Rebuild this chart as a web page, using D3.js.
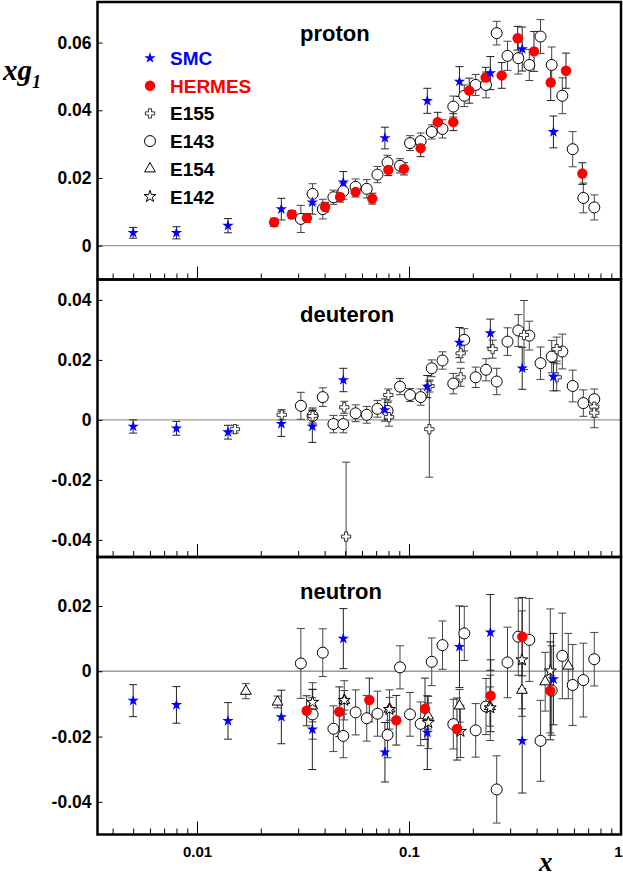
<!DOCTYPE html>
<html><head><meta charset="utf-8">
<script src="https://cdn.jsdelivr.net/npm/d3@7/dist/d3.min.js"></script>
<style>body{margin:0;background:#fff}svg{display:block}</style>
</head><body>
<script>
// ---------------- DATA ----------------
const xTickLabels = ["0.01", "0.1", "1"];
const xMajor = [0.01, 0.1, 1];
const experiments = ["SMC", "HERMES", "E155", "E143", "E154", "E142"];

// SMC x bins (shared by p, d, n)
const smcX = [0.005, 0.008, 0.014, 0.025, 0.035, 0.049, 0.077, 0.122, 0.173, 0.242, 0.342, 0.480];
// E143 x bins (shared by p, d, n)
const e143X = [0.0309, 0.0351, 0.0392, 0.0440, 0.0490, 0.0560, 0.0632, 0.0710, 0.0792, 0.0907, 0.1011, 0.1135, 0.1280, 0.1439,
  0.1618, 0.1823, 0.2063, 0.2308, 0.2592, 0.2915, 0.3278, 0.3694, 0.4173, 0.4711, 0.5287, 0.5918, 0.6643, 0.7482];

// proton
const pSMC_y = [0.0038, 0.0038, 0.0059, 0.0108, 0.0128, 0.0187, 0.0318, 0.0428, 0.0485, 0.0510, 0.0581, 0.0336];
const pSMC_e = [0.0016, 0.0018, 0.0021, 0.0032, 0.0035, 0.0032, 0.0032, 0.0037, 0.0044, 0.0049, 0.0065, 0.0047];
const pHERMES_x = [0.0231, 0.0280, 0.0330, 0.0402, 0.0473, 0.0560, 0.0671, 0.0799, 0.0947, 0.1135, 0.1366, 0.1618, 0.1924,
  0.2300, 0.2737, 0.3255, 0.3887, 0.4660, 0.5503, 0.6572];
const pHERMES_y = [0.0069, 0.0092, 0.0082, 0.0114, 0.0144, 0.0159, 0.0139, 0.0224, 0.0227, 0.0288, 0.0365, 0.0365, 0.0458,
  0.0497, 0.0503, 0.0613, 0.0574, 0.0482, 0.0517, 0.0213];
const pHERMES_e = [0.0012, 0.0012, 0.0013, 0.0014, 0.0015, 0.0015, 0.0016, 0.0017, 0.0018, 0.0025, 0.0029, 0.0025, 0.0037,
  0.0030, 0.0038, 0.0035, 0.0059, 0.0053, 0.0052, 0.0032];
const pE143_y = [0.0079, 0.0153, 0.0108, 0.0143, 0.0161, 0.0174, 0.0168, 0.0210, 0.0246, 0.0236, 0.0303, 0.0309, 0.0336, 0.0345,
  0.0411, 0.0443, 0.0475, 0.0475, 0.0628, 0.0561, 0.0554, 0.0534, 0.0618, 0.0534, 0.0443, 0.0285, 0.0141, 0.0113];
const pE143_e = [0.0040, 0.0030, 0.0029, 0.0021, 0.0024, 0.0023, 0.0027, 0.0024, 0.0021, 0.0021, 0.0022, 0.0024, 0.0021, 0.0027,
  0.0031, 0.0032, 0.0031, 0.0038, 0.0035, 0.0043, 0.0047, 0.0046, 0.0050, 0.0053, 0.0053, 0.0052, 0.0044, 0.0037];

// deuteron
const dSMC_y = [-0.0022, -0.0028, -0.0041, -0.0013, -0.0022, 0.0133, 0.0033, 0.0111, 0.0258, 0.0289, 0.0172, 0.0144];
const dSMC_e = [0.0022, 0.0023, 0.0023, 0.0042, 0.0053, 0.0039, 0.0037, 0.0037, 0.0050, 0.0047, 0.0070, 0.0047];
const dE143_y = [0.0047, 0.0013, 0.0076, -0.0014, -0.0014, 0.0022, 0.0017, 0.0037, 0.0030, 0.0111, 0.0083, 0.0076, 0.0172, 0.0198,
  0.0121, 0.0267, 0.0142, 0.0167, 0.0128, 0.0261, 0.0298, 0.0281, 0.0189, 0.0211, 0.0228, 0.0113, 0.0056, 0.0069];
const dE143_e = [0.0045, 0.0027, 0.0031, 0.0029, 0.0029, 0.0028, 0.0028, 0.0028, 0.0028, 0.0027, 0.0022, 0.0027, 0.0028, 0.0029,
  0.0034, 0.0037, 0.0034, 0.0037, 0.0044, 0.0046, 0.0053, 0.0048, 0.0054, 0.0054, 0.0058, 0.0053, 0.0044, 0.0034];
const dE155_x = [0.0151, 0.0251, 0.0351, 0.0495, 0.0505, 0.0799, 0.0805, 0.1247, 0.1250, 0.1753, 0.1753, 0.2480, 0.3487, 0.4974, 0.4974, 0.7480, 0.7480];
const dE155_y = [-0.0031, 0.0017, 0.0013, 0.0042, -0.0389, 0.0083, 0.0009, -0.0031, 0.0113, 0.0222, 0.0142, 0.0236, 0.0283, 0.0236, 0.0142, 0.0044, 0.0024];
const dE155_e = [0.0013, 0.0017, 0.0023, 0.0020, 0.0248, 0.0020, 0.0030, 0.0160, 0.0020, 0.0030, 0.0030, 0.0030, 0.0115, 0.0040, 0.0045, 0.0035, 0.0050];

// neutron
const nSMC_y = [-0.0090, -0.0103, -0.0152, -0.0140, -0.0178, 0.0100, -0.0248, -0.0188, 0.0075, 0.0119, -0.0213, -0.0024];
const nSMC_e = [0.0049, 0.0056, 0.0056, 0.0082, 0.0123, 0.0092, 0.0091, 0.0113, 0.0125, 0.0116, 0.0160, 0.0140];
const nHERMES_x = [0.0329, 0.0469, 0.0650, 0.0871, 0.1190, 0.1684, 0.2429, 0.3423, 0.4640];
const nHERMES_y = [-0.0121, -0.0124, -0.0088, -0.0150, -0.0115, -0.0177, -0.0075, 0.0106, -0.0060];
const nHERMES_e = [0.0046, 0.0076, 0.0067, 0.0076, 0.0094, 0.0095, 0.0110, 0.0120, 0.0150];
const nE143_y = [0.0024, -0.0132, 0.0057, -0.0176, -0.0198, -0.0126, -0.0144, -0.0130, -0.0195, 0.0012, -0.0132, -0.0161, 0.0029, 0.0080,
  -0.0162, 0.0116, -0.0181, -0.0108, -0.0362, 0.0027, 0.0106, 0.0096, -0.0213, -0.0059, 0.0047, -0.0042, -0.0027, 0.0037];
const nE143_e = [0.0107, 0.0076, 0.0073, 0.0070, 0.0067, 0.0069, 0.0070, 0.0069, 0.0070, 0.0066, 0.0067, 0.0067, 0.0073, 0.0074,
  0.0076, 0.0083, 0.0082, 0.0086, 0.0103, 0.0108, 0.0118, 0.0127, 0.0124, 0.0137, 0.0131, 0.0124, 0.0113, 0.0082];
const nE154_x = [0.017, 0.024, 0.035, 0.0496, 0.081, 0.123, 0.173, 0.241, 0.341, 0.439, 0.564];
const nE154_y = [-0.0061, -0.0094, -0.0106, -0.0089, -0.0115, -0.0137, -0.0106, -0.0108, -0.0058, -0.0032, 0.0016];
const nE154_e = [0.0023, 0.0018, 0.0025, 0.0030, 0.0035, 0.0040, 0.0050, 0.0060, 0.0080, 0.0090, 0.0100];
const nE142_x = [0.0351, 0.0495, 0.0809, 0.1233, 0.1749, 0.2418, 0.3410, 0.4640];
const nE142_y = [-0.0095, -0.0089, -0.0117, -0.0157, -0.0184, -0.0112, 0.0035, 0.0001];
const nE142_e = [0.0060, 0.0060, 0.0060, 0.0080, 0.0080, 0.0100, 0.0150, 0.0190];

// ---------------- CHART ----------------
const W = 623, H = 877;
const L = 97.5, R = 621;
const svg = d3.select("body").append("svg").attr("width", W).attr("height", H);
const x = d3.scaleLog().domain([0.003394, 1]).range([L, R]);

const zip = (xs, ys, es) => xs.map((v, i) => ({x: v, y: ys[i], e: es[i]}));

const styles = {
  SMC:    {sym: d3.symbolStar, size: 40, fill: "#0000ff", stroke: "none", bar: "#222"},
  HERMES: {sym: d3.symbolCircle, size: 85, fill: "#ff0000", stroke: "none", bar: "#222"},
  E155:   {sym: d3.symbolCross, size: 48, fill: "#fff", stroke: "#333", bar: "#444"},
  E143:   {sym: d3.symbolCircle, size: 95, fill: "#fff", stroke: "#000", bar: "#444"},
  E154:   {sym: d3.symbolTriangle, size: 50, fill: "#fff", stroke: "#000", bar: "#444"},
  E142:   {sym: d3.symbolStar, size: 44, fill: "#fff", stroke: "#000", bar: "#444"}
};

const panels = [
  {name: "proton", top: 2, bottom: 279.5, domain: [-0.01, 0.072], ticks: [0, 0.02, 0.04, 0.06], titleY: 41,
   sets: [["E143", zip(e143X, pE143_y, pE143_e)], ["HERMES", zip(pHERMES_x, pHERMES_y, pHERMES_e)], ["SMC", zip(smcX, pSMC_y, pSMC_e)]]},
  {name: "deuteron", top: 279.5, bottom: 557, domain: [-0.0457, 0.0468], ticks: [-0.04, -0.02, 0, 0.02, 0.04], titleY: 321.5,
   sets: [["E143", zip(e143X, dE143_y, dE143_e)], ["E155", zip(dE155_x, dE155_y, dE155_e)], ["SMC", zip(smcX, dSMC_y, dSMC_e)]]},
  {name: "neutron", top: 557, bottom: 834.5, domain: [-0.05, 0.035], ticks: [-0.04, -0.02, 0, 0.02], titleY: 599,
   sets: [["E143", zip(e143X, nE143_y, nE143_e)], ["E154", zip(nE154_x, nE154_y, nE154_e)], ["E142", zip(nE142_x, nE142_y, nE142_e)],
          ["HERMES", zip(nHERMES_x, nHERMES_y, nHERMES_e)], ["SMC", zip(smcX, nSMC_y, nSMC_e)]]}
];

const fmtY = d => d === 0 ? "0" : (d < 0 ? "-" : "") + Math.abs(d).toFixed(2);
const minorTicks = [];
[0.001, 0.01, 0.1].forEach(dec => { for (let k = 2; k <= 9; k++) { const v = +(k * dec).toPrecision(3); if (v > 0.003394) minorTicks.push(v); } });

panels.forEach((p, pi) => {
  const y = d3.scaleLinear().domain(p.domain).range([p.bottom, p.top]);
  const g = svg.append("g");
  const clipId = "clip" + pi;
  svg.append("clipPath").attr("id", clipId).append("rect")
    .attr("x", L).attr("y", p.top).attr("width", R - L).attr("height", p.bottom - p.top);
  const plot = g.append("g").attr("clip-path", `url(#${clipId})`);

  // zero line
  plot.append("line").attr("x1", L).attr("x2", R).attr("y1", y(0)).attr("y2", y(0))
    .attr("stroke", "#999").attr("stroke-width", 1.4);

  // error bars
  p.sets.forEach(([name, pts]) => {
    const st = styles[name];
    const eb = plot.append("g").attr("stroke", st.bar).attr("stroke-width", 1).attr("fill", "none");
    pts.forEach(d => {
      const cx = x(d.x), y1 = y(d.y + d.e), y2 = y(d.y - d.e);
      eb.append("line").attr("x1", cx).attr("x2", cx).attr("y1", y1).attr("y2", y2);
      eb.append("line").attr("x1", cx - 4).attr("x2", cx + 4).attr("y1", y1).attr("y2", y1);
      eb.append("line").attr("x1", cx - 4).attr("x2", cx + 4).attr("y1", y2).attr("y2", y2);
    });
  });
  // markers
  p.sets.forEach(([name, pts]) => {
    const st = styles[name];
    plot.append("g").selectAll("path").data(pts).join("path")
      .attr("d", d3.symbol(st.sym, st.size))
      .attr("transform", d => `translate(${x(d.x)},${y(d.y)})`)
      .attr("fill", st.fill).attr("stroke", st.stroke).attr("stroke-width", 1);
  });

  // y axis ticks (inward) and labels
  const ya = d3.axisLeft(y).tickValues(p.ticks).tickSize(-5).tickPadding(6).tickFormat(fmtY);
  const yg = g.append("g").attr("transform", `translate(${L},0)`).call(ya);
  yg.select(".domain").remove();
  yg.selectAll("line").attr("stroke", "#000").attr("stroke-width", 1);
  yg.selectAll("text").attr("font-family", "Liberation Sans, Arial, sans-serif")
    .attr("font-weight", "bold").attr("font-size", 17.5).attr("fill", "#000");

  // x ticks upward from bottom
  const xm = d3.axisTop(x).tickValues(minorTicks).tickSize(6).tickFormat("");
  const xmg = g.append("g").attr("transform", `translate(0,${p.bottom})`).call(xm);
  xmg.select(".domain").remove();
  xmg.selectAll("line").attr("stroke", "#000");
  const xM = d3.axisTop(x).tickValues([0.01, 0.1]).tickSize(13).tickFormat("");
  const xMg = g.append("g").attr("transform", `translate(0,${p.bottom})`).call(xM);
  xMg.select(".domain").remove();
  xMg.selectAll("line").attr("stroke", "#000");

  // frame
  g.append("rect").attr("x", L).attr("y", p.top).attr("width", R - L).attr("height", p.bottom - p.top)
    .attr("fill", "none").attr("stroke", "#000").attr("stroke-width", 2.5);

  // title
  g.append("text").attr("x", 300).attr("y", p.titleY).text(p.name)
    .attr("font-family", "Liberation Sans, Arial, sans-serif").attr("font-weight", "bold").attr("font-size", 22);

  if (pi === panels.length - 1) {
    const xl = d3.axisBottom(x).tickValues(xMajor).tickSize(0).tickPadding(12)
      .tickFormat((d, i) => xTickLabels[i]);
    const xlg = g.append("g").attr("transform", `translate(0,${p.bottom})`).call(xl);
    xlg.select(".domain").remove();
    xlg.selectAll("text").attr("font-family", "Liberation Sans, Arial, sans-serif")
      .attr("font-weight", "bold").attr("font-size", 15).attr("fill", "#000");
    // keep the last label inside the page
    xlg.selectAll(".tick").filter(d => d === 1).select("text").attr("text-anchor", "end").attr("x", 622 - x(1));
  }
});

// legend
const legColors = {SMC: "#0000ff", HERMES: "#ff0000", E155: "#000", E143: "#000", E154: "#000", E142: "#000"};
const leg = svg.append("g");
experiments.forEach((name, i) => {
  const st = styles[name];
  const by = 65 + i * 27.7;
  leg.append("path").attr("d", d3.symbol(st.sym, st.size)).attr("transform", `translate(150,${by - 7})`)
    .attr("fill", st.fill).attr("stroke", st.stroke).attr("stroke-width", 1);
  leg.append("text").attr("x", 170).attr("y", by).text(name)
    .attr("font-family", "Liberation Sans, Arial, sans-serif").attr("font-weight", "bold").attr("font-size", 19)
    .attr("fill", legColors[name]);
});

// axis titles
const yt = svg.append("text").attr("x", 3).attr("y", 80)
  .attr("font-family", "Liberation Serif, Times New Roman, serif").attr("font-style", "italic").attr("font-weight", "bold")
  .attr("font-size", 29);
yt.append("tspan").text("xg");
yt.append("tspan").attr("font-size", 18).attr("dy", 8).text("1");
svg.append("text").attr("x", 539).attr("y", 871).text("x")
  .attr("font-family", "Liberation Serif, Times New Roman, serif").attr("font-style", "italic").attr("font-weight", "bold")
  .attr("font-size", 27);
</script>
</body></html>
